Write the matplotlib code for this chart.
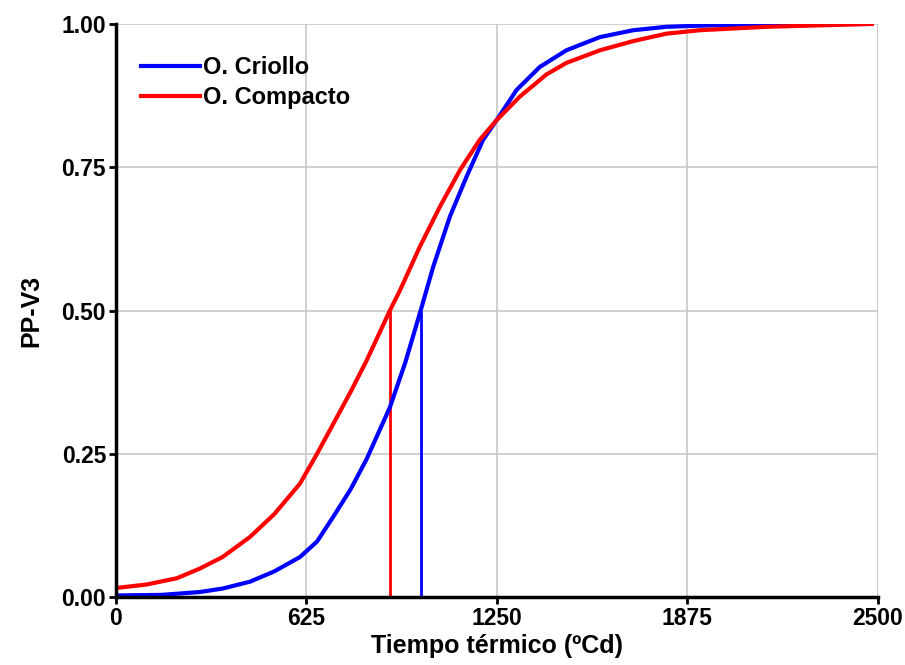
import matplotlib
matplotlib.use("Agg")
import matplotlib.pyplot as plt
import numpy as np

# thermal time (ºCd) and cumulative proportion
criollo_x = [0, 150, 276, 350, 440, 520, 604, 660, 713, 770, 822, 899, 950, 1000,
             1041, 1096, 1151, 1205, 1249, 1315, 1391, 1478, 1588, 1697, 1806,
             1915, 2134, 2480]
criollo_y = [0.003, 0.004, 0.009, 0.015, 0.027, 0.045, 0.070, 0.097, 0.140, 0.188,
             0.240, 0.331, 0.410, 0.500, 0.576, 0.664, 0.734, 0.798, 0.832, 0.885,
             0.925, 0.954, 0.977, 0.989, 0.995, 0.997, 0.999, 1.000]

compacto_x = [0, 100, 200, 276, 350, 440, 520, 604, 660, 713, 770, 822, 899, 932,
              997, 1063, 1129, 1194, 1249, 1325, 1413, 1478, 1588, 1697, 1806,
              1915, 2134, 2480]
compacto_y = [0.016, 0.022, 0.033, 0.050, 0.070, 0.105, 0.145, 0.198, 0.250, 0.302,
              0.358, 0.412, 0.500, 0.535, 0.611, 0.681, 0.745, 0.798, 0.832, 0.873,
              0.912, 0.932, 0.954, 0.970, 0.983, 0.989, 0.995, 1.000]

# medians (x where proportion = 0.5)
median_x = [900, 1000]
median_colors = ['red', 'blue']

xticks = [0, 625, 1250, 1875, 2500]
yticks = [0, 0.25, 0.5, 0.75, 1.0]

plt.rcParams['font.family'] = ['Liberation Sans', 'DejaVu Sans']
plt.rcParams['font.weight'] = 'bold'

fig = plt.figure(figsize=(9.05, 6.65), dpi=100)
ax = fig.add_axes([0.128, 0.102, 0.842, 0.862])

ax.plot(criollo_x, criollo_y, color='blue', lw=3, label='O. Criollo', zorder=3)
ax.plot(compacto_x, compacto_y, color='red', lw=3, label='O. Compacto', zorder=3)
ax.vlines(median_x, 0, 0.5, colors=median_colors, lw=2, zorder=2)

ax.set_xlim(0, 2500)
ax.set_ylim(0, 1)
ax.set_xticks(xticks)
ax.set_yticks(yticks)
ax.set_xticklabels([str(t) for t in xticks])
ax.set_yticklabels([f'{t:.2f}' for t in yticks])
ax.tick_params(labelsize=16.5, length=5, width=2, color='black', pad=2)

ax.grid(True, color='#c8c8c8', lw=1.2)
ax.set_axisbelow(True)
for s in ['top', 'right']:
    ax.spines[s].set_visible(False)
for s in ['left', 'bottom']:
    ax.spines[s].set_linewidth(2.5)
    ax.spines[s].set_zorder(4)
# right-hand gridline at 2500
ax.axvline(2500, color='#c8c8c8', lw=1.2, zorder=0)

ax.set_xlabel('Tiempo térmico (ºCd)', fontsize=18, fontweight='bold', labelpad=3)
ax.set_ylabel('PP-V3', fontsize=18, fontweight='bold', labelpad=13)

ax.legend(loc='upper left', frameon=False, fontsize=17, handlelength=2.5,
          handletextpad=0.1, labelspacing=0.3, bbox_to_anchor=(-0.004, 0.993),
          borderaxespad=0.8)

fig.savefig('out.png', dpi=100)
plt.close()
